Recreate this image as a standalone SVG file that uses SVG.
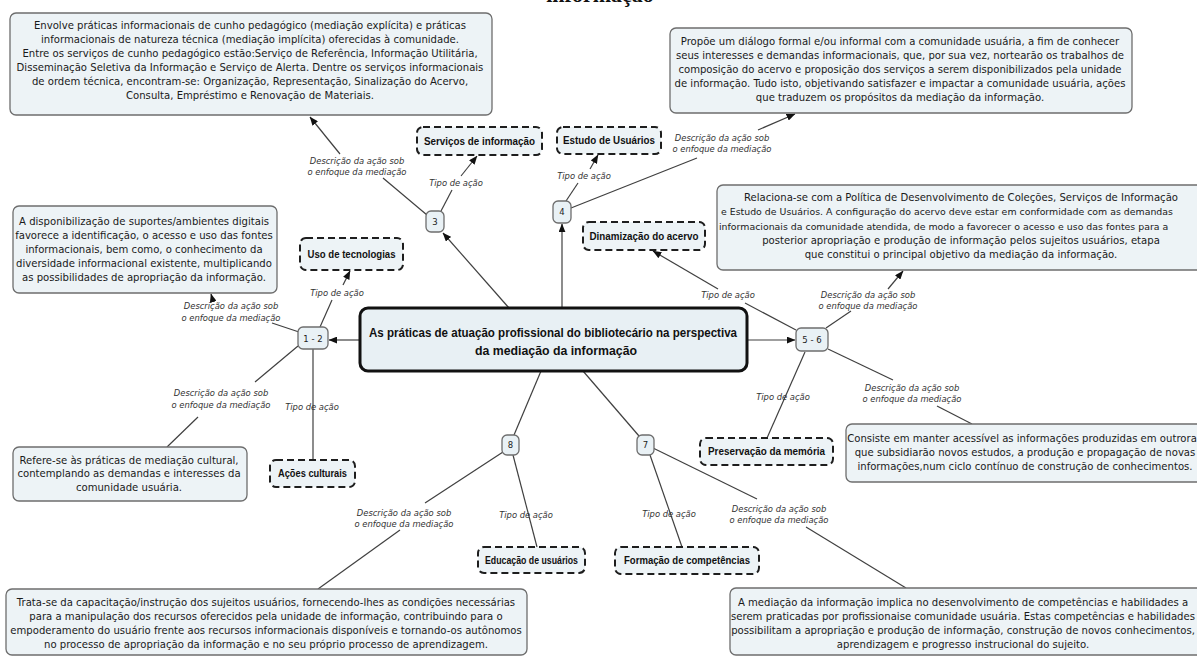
<svg xmlns="http://www.w3.org/2000/svg" width="1197" height="657" viewBox="0 0 1197 657">
<defs>
<marker id="ah" viewBox="0 0 10 8" refX="9.5" refY="4" markerWidth="9" markerHeight="7" markerUnits="userSpaceOnUse" orient="auto">
<path d="M0,0 L10,4 L0,8 z" fill="#111"/>
</marker>
<style>
.box{fill:#edf3f6;stroke:#6d6d6d;stroke-width:1.3}
.dash{fill:#edf3f6;stroke:#1e1e1e;stroke-width:2;stroke-dasharray:7 4}
.main{fill:#e8f0f4;stroke:#111;stroke-width:3}
.num{fill:#e9f1f5;stroke:#6d6d6d;stroke-width:1.3}
.t{font-family:"DejaVu Sans",sans-serif;font-size:10.1px;fill:#1a1a1a;text-anchor:middle}
.ts{font-family:"DejaVu Sans",sans-serif;font-size:9.4px;fill:#1a1a1a;text-anchor:start}
.b{font-family:"Liberation Sans",Arial,sans-serif;font-weight:bold;font-size:10.5px;fill:#111;text-anchor:middle}
.m{font-family:"Liberation Sans",Arial,sans-serif;font-weight:bold;font-size:12px;fill:#111;text-anchor:middle}
.n{font-family:"DejaVu Sans",sans-serif;font-size:8.5px;fill:#222;text-anchor:middle}
.lbl{font-family:"DejaVu Sans",sans-serif;font-style:italic;font-size:8.4px;fill:#333;text-anchor:middle}
.ln{stroke:#404040;stroke-width:1.2;fill:none}
.ar{marker-end:url(#ah)}
</style>
</defs>
<rect width="1197" height="657" fill="#ffffff"/>
<text x="600" y="2" font-family="Liberation Serif,serif" font-weight="bold" font-size="22" text-anchor="middle" fill="#111">informação</text>

<g id="connectors">
<line class="ln ar" x1="509" y1="308" x2="443" y2="233"/>
<line class="ln ar" x1="562" y1="308" x2="562" y2="224"/>
<line class="ln ar" x1="360" y1="340" x2="329" y2="340"/>
<line class="ln ar" x1="747" y1="340" x2="795" y2="340"/>
<line class="ln" x1="541" y1="371" x2="514" y2="435"/>
<line class="ln" x1="583" y1="371" x2="639" y2="436"/>
<line class="ln" x1="441" y1="211" x2="452" y2="190"/>
<line class="ln ar" x1="461" y1="176" x2="477" y2="156"/>
<line class="ln" x1="427" y1="215" x2="383" y2="178"/>
<line class="ln ar" x1="340" y1="154" x2="310" y2="117"/>
<line class="ln" x1="566" y1="201" x2="578" y2="183"/>
<line class="ln ar" x1="590" y1="169" x2="598" y2="155"/>
<line class="ln" x1="571" y1="208" x2="697" y2="158"/>
<line class="ln ar" x1="758" y1="130" x2="795" y2="114"/>
<line class="ln" x1="320" y1="327" x2="332" y2="300"/>
<line class="ln ar" x1="343" y1="285" x2="350" y2="271"/>
<line class="ln" x1="299" y1="332" x2="272" y2="323"/>
<line class="ln ar" x1="213" y1="301" x2="211" y2="294"/>
<line class="ln" x1="313" y1="349" x2="313" y2="460"/>
<line class="ln" x1="298" y1="346" x2="255" y2="382"/>
<line class="ln" x1="198" y1="417" x2="167" y2="447"/>
<line class="ln" x1="796" y1="330" x2="745" y2="303"/>
<line class="ln ar" x1="718" y1="289" x2="653" y2="251"/>
<line class="ln" x1="826" y1="328" x2="851" y2="311"/>
<line class="ln ar" x1="888" y1="289" x2="903" y2="271"/>
<line class="ln" x1="805" y1="352" x2="767" y2="438"/>
<line class="ln" x1="828" y1="349" x2="893" y2="380"/>
<line class="ln" x1="937" y1="406" x2="972" y2="424"/>
<line class="ln" x1="503" y1="452" x2="425" y2="503"/>
<line class="ln" x1="400" y1="530" x2="318" y2="589"/>
<line class="ln" x1="513" y1="455" x2="537" y2="547"/>
<line class="ln" x1="650" y1="455" x2="682" y2="547"/>
<line class="ln" x1="653" y1="448" x2="757" y2="499"/>
<line class="ln" x1="806" y1="527" x2="906" y2="588"/>
</g>

<g id="labels">
<text class="lbl" x="357" y="164">Descrição da ação sob</text>
<text class="lbl" x="357" y="175">o enfoque da mediação</text>
<text class="lbl" x="456" y="186">Tipo de ação</text>
<text class="lbl" x="584" y="179">Tipo de ação</text>
<text class="lbl" x="722" y="141">Descrição da ação sob</text>
<text class="lbl" x="722" y="152">o enfoque da mediação</text>
<text class="lbl" x="337" y="296">Tipo de ação</text>
<text class="lbl" x="231" y="309">Descrição da ação sob</text>
<text class="lbl" x="231" y="321">o enfoque da mediação</text>
<text class="lbl" x="312" y="410">Tipo de ação</text>
<text class="lbl" x="221" y="396">Descrição da ação sob</text>
<text class="lbl" x="221" y="408">o enfoque da mediação</text>
<text class="lbl" x="728" y="298">Tipo de ação</text>
<text class="lbl" x="868" y="298">Descrição da ação sob</text>
<text class="lbl" x="868" y="309">o enfoque da mediação</text>
<text class="lbl" x="783" y="400">Tipo de ação</text>
<text class="lbl" x="912" y="391">Descrição da ação sob</text>
<text class="lbl" x="912" y="402">o enfoque da mediação</text>
<text class="lbl" x="404" y="516">Descrição da ação sob</text>
<text class="lbl" x="404" y="527">o enfoque da mediação</text>
<text class="lbl" x="526" y="518">Tipo de ação</text>
<text class="lbl" x="669" y="517">Tipo de ação</text>
<text class="lbl" x="779" y="512">Descrição da ação sob</text>
<text class="lbl" x="779" y="523">o enfoque da mediação</text>
</g>

<g id="center">
<rect class="main" x="360" y="308" width="387" height="63" rx="8"/>
<text class="m" x="553" y="337" textLength="368" lengthAdjust="spacingAndGlyphs">As práticas de atuação profissional do bibliotecário na perspectiva</text>
<text class="m" x="556" y="355" textLength="162" lengthAdjust="spacingAndGlyphs">da mediação da informação</text>
</g>

<g id="n12"><rect class="num" x="298" y="327" width="30" height="22" rx="5"/><text class="n" x="313" y="341.5">1 - 2</text></g>
<g id="n56"><rect class="num" x="796" y="328" width="32" height="23" rx="5"/><text class="n" x="812" y="342.5">5 - 6</text></g>
<g id="n3"><rect class="num" x="426" y="211" width="18" height="21" rx="5"/><text class="n" x="435" y="224.5">3</text></g>
<g id="n4"><rect class="num" x="553" y="201" width="18" height="22" rx="5"/><text class="n" x="562" y="215">4</text></g>
<g id="n8"><rect class="num" x="502" y="435" width="17" height="20" rx="5"/><text class="n" x="510.5" y="448">8</text></g>
<g id="n7"><rect class="num" x="637" y="435" width="17" height="20" rx="5"/><text class="n" x="645.5" y="448">7</text></g>

<g id="t-servicos"><rect class="dash" x="417" y="127" width="125" height="28" rx="6"/><text class="b" x="479.5" y="144.5" textLength="111" lengthAdjust="spacingAndGlyphs">Serviços de informação</text></g>
<g id="t-estudo"><rect class="dash" x="557" y="127" width="104" height="27" rx="6"/><text class="b" x="609" y="144" textLength="92" lengthAdjust="spacingAndGlyphs">Estudo de Usuários</text></g>
<g id="t-uso"><rect class="dash" x="300" y="238" width="103" height="32" rx="6"/><text class="b" x="351.5" y="257.5" textLength="88" lengthAdjust="spacingAndGlyphs">Uso de tecnologias</text></g>
<g id="t-dinam"><rect class="dash" x="583" y="222" width="122" height="28" rx="6"/><text class="b" x="644" y="239.5" textLength="109" lengthAdjust="spacingAndGlyphs">Dinamização do acervo</text></g>
<g id="t-acoes"><rect class="dash" x="270" y="460" width="85" height="27" rx="6"/><text class="b" x="312.5" y="477" textLength="69" lengthAdjust="spacingAndGlyphs">Ações culturais</text></g>
<g id="t-preserv"><rect class="dash" x="700" y="438" width="133" height="27" rx="6"/><text class="b" x="766.5" y="455" textLength="117" lengthAdjust="spacingAndGlyphs">Preservação da memória</text></g>
<g id="t-educ"><rect class="dash" x="478" y="547" width="107" height="26" rx="6"/><text class="b" x="531.5" y="563.5" textLength="93" lengthAdjust="spacingAndGlyphs">Educação de usuários</text></g>
<g id="t-form"><rect class="dash" x="615" y="547" width="144" height="27" rx="6"/><text class="b" x="687" y="564" textLength="126" lengthAdjust="spacingAndGlyphs">Formação de competências</text></g>

<g id="d-servicos">
<rect class="box" x="10" y="13" width="482" height="102" rx="6"/>
<text class="t" x="250" y="29">Envolve práticas informacionais de cunho pedagógico (mediação explícita) e práticas</text>
<text class="t" x="250" y="43">informacionais de natureza técnica (mediação implícita) oferecidas à comunidade.</text>
<text class="t" x="250" y="57">Entre os serviços de cunho pedagógico estão:Serviço de Referência, Informação Utilitária,</text>
<text class="t" x="250" y="71">Disseminação Seletiva da Informação e Serviço de Alerta. Dentre os serviços informacionais</text>
<text class="t" x="250" y="85">de ordem técnica, encontram-se: Organização, Representação, Sinalização do Acervo,</text>
<text class="t" x="250" y="99">Consulta, Empréstimo e Renovação de Materiais.</text>
</g>

<g id="d-estudo">
<rect class="box" x="670" y="28" width="462" height="85" rx="6"/>
<text class="t" x="900" y="45">Propõe um diálogo formal e/ou informal com a comunidade usuária, a fim de conhecer</text>
<text class="t" x="900" y="59">seus interesses e demandas informacionais, que, por sua vez, nortearão os trabalhos de</text>
<text class="t" x="900" y="73">composição do acervo e proposição dos serviços a serem disponibilizados pela unidade</text>
<text class="t" x="900" y="87">de informação. Tudo isto, objetivando satisfazer e impactar a comunidade usuária, ações</text>
<text class="t" x="900" y="101">que traduzem os propósitos da mediação da informação.</text>
</g>

<g id="d-dinam">
<rect class="box" x="717" y="185" width="500" height="85" rx="6"/>
<text class="t" x="961" y="201">Relaciona-se com a Política de Desenvolvimento de Coleções, Serviços de Informação</text>
<text class="ts" x="721" y="215">e Estudo de Usuários. A configuração do acervo deve estar em conformidade com as demandas</text>
<text class="ts" x="719" y="229.5">informacionais da comunidade atendida, de modo a favorecer o acesso e uso das fontes para a</text>
<text class="t" x="961" y="244">posterior apropriação e produção de informação pelos sujeitos usuários, etapa</text>
<text class="t" x="961" y="258">que constitui o principal objetivo da mediação da informação.</text>
</g>

<g id="d-uso">
<rect class="box" x="13" y="206" width="264" height="87" rx="6"/>
<text class="t" x="144" y="224.5">A disponibilização de suportes/ambientes digitais</text>
<text class="t" x="144" y="238.5">favorece a identificação, o acesso e uso das fontes</text>
<text class="t" x="144" y="252.5">informacionais, bem como, o conhecimento da</text>
<text class="t" x="144" y="266.5">diversidade informacional existente, multiplicando</text>
<text class="t" x="144" y="280.5">as possibilidades de apropriação da informação.</text>
</g>

<g id="d-acoes">
<rect class="box" x="13" y="447" width="234" height="54" rx="6"/>
<text class="t" x="129" y="463.5">Refere-se às práticas de mediação cultural,</text>
<text class="t" x="129" y="477">contemplando as demandas e interesses da</text>
<text class="t" x="129" y="490.5">comunidade usuária.</text>
</g>

<g id="d-preserv">
<rect class="box" x="846" y="424" width="370" height="58" rx="6"/>
<text class="t" x="1022" y="441.5">Consiste em manter acessível as informações produzidas em outrora</text>
<text class="t" x="1025" y="455.5">que subsidiarão novos estudos, a produção e propagação de novas</text>
<text class="t" x="1025" y="469.5">informações,num ciclo contínuo de construção de conhecimentos.</text>
</g>

<g id="d-educ">
<rect class="box" x="6" y="589" width="521" height="66" rx="6"/>
<text class="t" x="266" y="606">Trata-se da capacitação/instrução dos sujeitos usuários, fornecendo-lhes as condições necessárias</text>
<text class="t" x="266" y="620">para a manipulação dos recursos oferecidos pela unidade de informação, contribuindo para o</text>
<text class="t" x="266" y="634">empoderamento do usuário frente aos recursos informacionais disponíveis e tornando-os autônomos</text>
<text class="t" x="266" y="647.5">no processo de apropriação da informação e no seu próprio processo de aprendizagem.</text>
</g>

<g id="d-form">
<rect class="box" x="730" y="588" width="478" height="67" rx="6"/>
<text class="t" x="963" y="606">A mediação da informação implica no desenvolvimento de competências e habilidades a</text>
<text class="t" x="963" y="620">serem praticadas por profissionaise comunidade usuária. Estas competências e habilidades</text>
<text class="t" x="963" y="634">possibilitam a apropriação e produção de informação, construção de novos conhecimentos,</text>
<text class="t" x="963" y="647.5">aprendizagem e progresso instrucional do sujeito.</text>
</g>
</svg>
